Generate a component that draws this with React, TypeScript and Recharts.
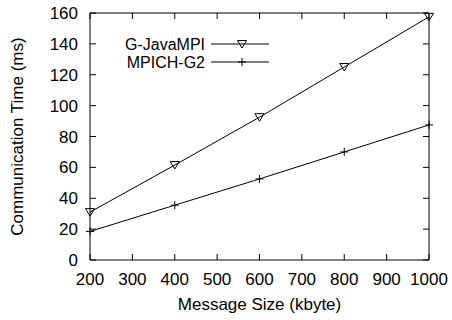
import { Label, Line, LineChart, ReferenceLine, XAxis, YAxis } from 'recharts';

const messageSizes = [200, 400, 600, 800, 1000];
const gJavaMpi = [31, 61.5, 92.5, 125, 157.5];
const mpichG2 = [18.5, 35.5, 52.5, 70, 87.5];

const xTicks = [200, 300, 400, 500, 600, 700, 800, 900, 1000];
const yTicks = [0, 20, 40, 60, 80, 100, 120, 140, 160];

const FONT = '"Liberation Sans", Arial, Helvetica, sans-serif';
const FONT_SIZE = 17;
const LEGEND_FONT_SIZE = 16;

const CHART_W = 452;
const CHART_H = 320;
const MARGIN = { top: 13, right: 23, bottom: 0, left: 0 };
const X_AXIS_H = 60;
const Y_AXIS_W = 90;
const TICK_LEN = 6;
const X_TICK_GAP = 13;
const Y_TICK_GAP = 12;

// plot box, derived from margins + axis sizes
const plotTop = MARGIN.top;
const plotBottom = CHART_H - MARGIN.bottom - X_AXIS_H;
const plotLeft = MARGIN.left + Y_AXIS_W;
const plotRight = CHART_W - MARGIN.right;

const data = messageSizes.map((size, i) => ({
  size,
  java: gJavaMpi[i],
  mpich: mpichG2[i],
}));

// open downward triangle, gnuplot style
function triPath(cx: number, cy: number) {
  return `M${cx - 4.5},${cy - 3.5} L${cx + 4.5},${cy - 3.5} L${cx},${cy + 4} Z`;
}

function plusPath(cx: number, cy: number) {
  return `M${cx - 4},${cy} L${cx + 4},${cy} M${cx},${cy - 4} L${cx},${cy + 4}`;
}

function TriangleDot(props: any) {
  const { cx, cy, index } = props;
  return <path key={`tri-${index}`} d={triPath(cx, cy)} fill="none" stroke="#000" strokeWidth={1} />;
}

function PlusDot(props: any) {
  const { cx, cy, index } = props;
  return <path key={`plus-${index}`} d={plusPath(cx, cy)} fill="none" stroke="#000" strokeWidth={1} />;
}

// x tick: label below, inward tick marks on bottom and top borders
function XTick(props: any) {
  const { x, y, payload } = props;
  return (
    <g>
      <line x1={x} x2={x} y1={plotBottom} y2={plotBottom - TICK_LEN} stroke="#000" />
      <line x1={x} x2={x} y1={plotTop} y2={plotTop + TICK_LEN} stroke="#000" />
      <text
        x={x}
        y={y}
        dy="0.71em"
        textAnchor="middle"
        fontFamily={FONT}
        fontSize={FONT_SIZE}
        fill="#000"
      >
        {payload.value}
      </text>
    </g>
  );
}

// y tick: label left, inward tick marks on left and right borders
function YTick(props: any) {
  const { x, y, payload } = props;
  return (
    <g>
      <line x1={plotLeft} x2={plotLeft + TICK_LEN} y1={y} y2={y} stroke="#000" />
      <line x1={plotRight} x2={plotRight - TICK_LEN} y1={y} y2={y} stroke="#000" />
      <text
        x={x}
        y={y}
        dy="0.355em"
        textAnchor="end"
        fontFamily={FONT}
        fontSize={FONT_SIZE}
        fill="#000"
      >
        {payload.value}
      </text>
    </g>
  );
}

function LegendBox() {
  const rows = [
    { name: 'G-JavaMPI', marker: triPath, y: 44 },
    { name: 'MPICH-G2', marker: plusPath, y: 62 },
  ];
  return (
    <svg
      width={CHART_W}
      height={80}
      style={{ position: 'absolute', left: 0, top: 0, pointerEvents: 'none' }}
    >
      {rows.map((row) => (
        <g key={row.name}>
          <text
            x={205}
            y={row.y + 6}
            textAnchor="end"
            fontFamily={FONT}
            fontSize={LEGEND_FONT_SIZE}
            fill="#000"
          >
            {row.name}
          </text>
          <line x1={211} x2={269} y1={row.y} y2={row.y} stroke="#000" strokeWidth={1} />
          <path d={row.marker(242, row.y)} fill="none" stroke="#000" strokeWidth={1} />
        </g>
      ))}
    </svg>
  );
}

export default function App() {
  return (
    <div
      style={{ position: 'absolute', left: 0, top: 0, width: CHART_W, height: CHART_H, background: '#fff' }}
    >
      <LineChart width={CHART_W} height={CHART_H} data={data} margin={MARGIN}>
        <XAxis
          dataKey="size"
          type="number"
          domain={[200, 1000]}
          ticks={xTicks}
          height={X_AXIS_H}
          tickSize={0}
          tickMargin={X_TICK_GAP}
          tickLine={false}
          tick={<XTick />}
          axisLine={{ stroke: '#000' }}
          interval={0}
        >
          <Label
            content={({ viewBox }: any) => (
              <text
                x={viewBox.x + viewBox.width / 2}
                y={310}
                textAnchor="middle"
                fontFamily={FONT}
                fontSize={FONT_SIZE}
                fill="#000"
              >
                Message Size (kbyte)
              </text>
            )}
          />
        </XAxis>
        <YAxis
          type="number"
          domain={[0, 160]}
          ticks={yTicks}
          width={Y_AXIS_W}
          tickSize={0}
          tickMargin={Y_TICK_GAP}
          tickLine={false}
          tick={<YTick />}
          axisLine={{ stroke: '#000' }}
          interval={0}
        >
          <Label
            content={({ viewBox }: any) => {
              const cx = 23;
              const cy = viewBox.y + viewBox.height / 2;
              return (
                <text
                  x={cx}
                  y={cy}
                  transform={`rotate(-90, ${cx}, ${cy})`}
                  textAnchor="middle"
                  fontFamily={FONT}
                  fontSize={FONT_SIZE}
                  fill="#000"
                >
                  Communication Time (ms)
                </text>
              );
            }}
          />
        </YAxis>
        {/* top and right frame */}
        <ReferenceLine y={160} stroke="#000" strokeWidth={1} />
        <ReferenceLine x={1000} stroke="#000" strokeWidth={1} />
        <Line
          dataKey="java"
          stroke="#000"
          strokeWidth={1}
          dot={TriangleDot}
          activeDot={false}
          isAnimationActive={false}
        />
        <Line
          dataKey="mpich"
          stroke="#000"
          strokeWidth={1}
          dot={PlusDot}
          activeDot={false}
          isAnimationActive={false}
        />
      </LineChart>
      <LegendBox />
    </div>
  );
}
